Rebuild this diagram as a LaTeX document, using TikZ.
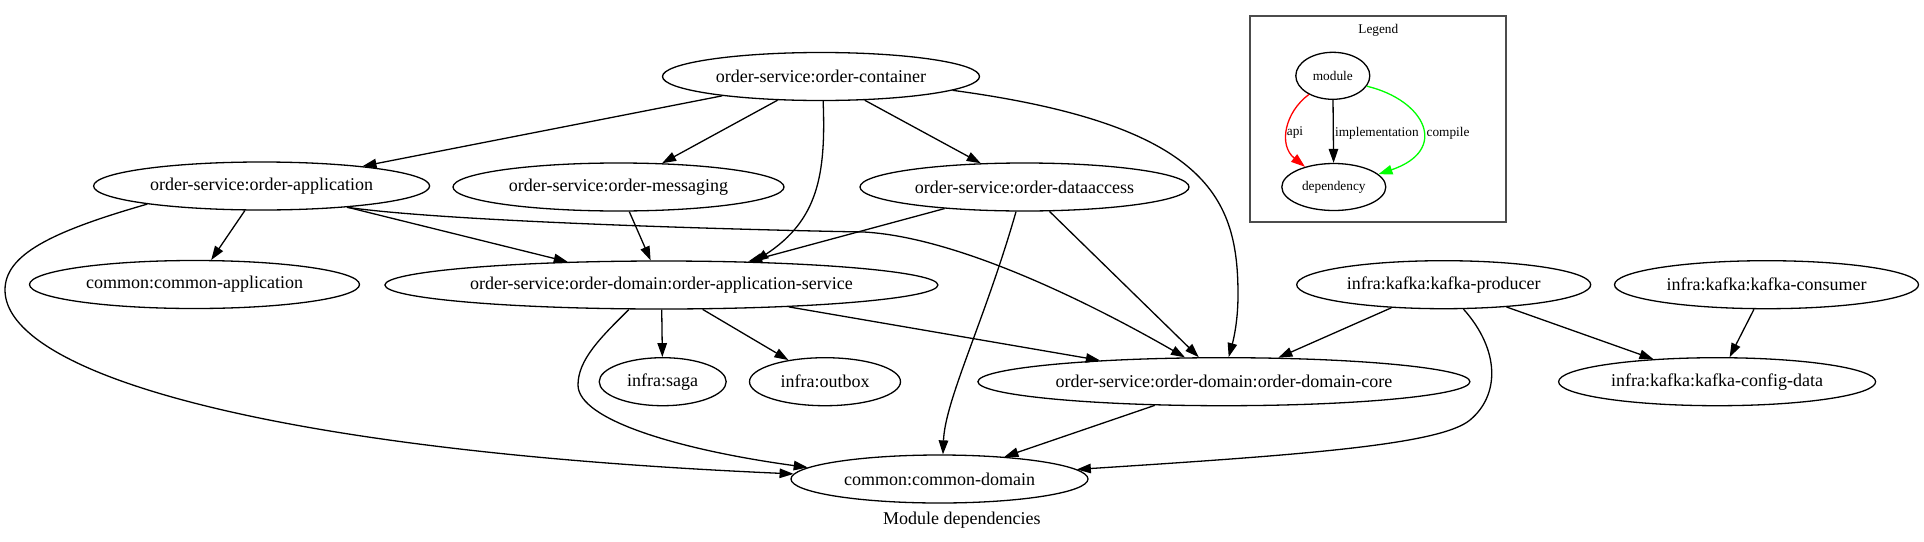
\documentclass[tikz,border=0pt]{standalone}
\usepackage{fontspec}
\setmainfont{Liberation Serif}
\usetikzlibrary{arrows.meta,shapes.geometric}
\newcommand{\modfont}{\fontsize{18}{21}\selectfont}
\newcommand{\legfont}{\fontsize{13.3}{16}\selectfont}
\begin{document}
\begin{tikzpicture}[x=1pt, y=-1pt, line width=1.3pt,
		mod/.style={ellipse, draw, inner sep=0pt, minimum height=48pt, font=\modfont},
		leg/.style={ellipse, draw, inner sep=0pt, minimum height=47pt, font=\legfont},
		dep/.style={-{Triangle[length=14pt, width=9.5pt]}},
		lbl/.style={font=\legfont, inner sep=1pt}]
	\useasboundingbox (0,0) rectangle (1924,541);
	\node[mod, minimum width=317pt] (oc) at (821,76.5) {order-service:order-container};
	\node[mod, minimum width=336pt] (oa) at (261.6,186) {order-service:order-application};
	\node[mod, minimum width=331pt] (om) at (618.5,187) {order-service:order-messaging};
	\node[mod, minimum width=329pt] (od) at (1024.5,187) {order-service:order-dataaccess};
	\node[mod, minimum width=330pt] (ca) at (194.5,284.5) {common:common-application};
	\node[mod, minimum width=553pt] (oas) at (661.4,285) {order-service:order-domain:order-application-service};
	\node[mod, minimum width=294pt] (kp) at (1443.7,284.7) {infra:kafka:kafka-producer};
	\node[mod, minimum width=304pt] (kc) at (1766.5,284.7) {infra:kafka:kafka-consumer};
	\node[mod, minimum width=127pt] (sg) at (662.7,381.7) {infra:saga};
	\node[mod, minimum width=151pt] (ob) at (825,381.7) {infra:outbox};
	\node[mod, minimum width=492pt] (odc) at (1223.9,381.7) {order-service:order-domain:order-domain-core};
	\node[mod, minimum width=317pt] (kcd) at (1717.1,381.7) {infra:kafka:kafka-config-data};
	\node[mod, minimum width=297pt] (cd) at (939.5,479) {common:common-domain};
	\node[font=\modfont] (ttl) at (961.8,520) {Module dependencies};
	\draw[dep] (oc) -- (oa);
	\draw[dep] (oc) -- (om);
	\draw[dep] (oc.275) .. controls (826,175) and (818,220) .. (oas.14);
	\draw[dep] (oc) -- (od);
	\draw[dep] (oc.354) .. controls (1210,125) and (1238,200) .. (1238,295) .. controls (1238,325) and (1232,345) .. (odc.79);
	\draw[dep] (oa) -- (ca);
	\draw[dep] (oa) -- (oas);
	\draw[dep] (oa.346) .. controls (450,222) and (750,230) .. (864,232) .. controls (970,238) and (1120,320) .. (odc.148);
	\draw[dep] (oa.189) .. controls (50,232) and (5,255) .. (5,290) .. controls (5,370) and (250,450) .. (cd.178);
	\draw[dep] (om) -- (oas);
	\draw[dep] (od) -- (oas);
	\draw[dep] (od.251) .. controls (985,320) and (945,400) .. (cd.82);
	\draw[dep] (od) -- (odc);
	\draw[dep] (oas) -- (sg);
	\draw[dep] (oas) -- (ob);
	\draw[dep] (oas) -- (odc);
	\draw[dep] (oas.217) .. controls (600,338) and (578,360) .. (578,385) .. controls (578,420) and (680,450) .. (cd.175);
	\draw[dep] (odc) -- (cd);
	\draw[dep] (kp) -- (odc);
	\draw[dep] (kp) -- (kcd);
	\draw[dep] (kp.309) .. controls (1500,350) and (1500,395) .. (1470,420) .. controls (1440,445) and (1300,455) .. (cd.4);
	\draw[dep] (kc) -- (kcd);
	\node[draw=black!70, line width=1.6pt, minimum width=256pt, minimum height=206pt] (lgd) at (1378,118.7) {};
	\node[lbl] (lgt) at (1378.3,30) {Legend};
	\node[leg, minimum width=74pt] (lm) at (1332.8,75.8) {module};
	\node[leg, minimum width=104pt] (ld) at (1333.8,187) {dependency};
	\draw[dep, red] (lm.218) .. controls (1285,112) and (1278,145) .. (ld.145);
	\draw[dep] (lm) -- (ld);
	\draw[dep, green] (lm.343) .. controls (1425,100) and (1450,150) .. (ld.16);
	\node[lbl] (lapi) at (1295,133) {api};
	\node[lbl, anchor=west] (limp) at (1333.5,133) {implementation};
	\node[lbl, anchor=west] (lcmp) at (1425,133) {compile};
\end{tikzpicture}
\end{document}
